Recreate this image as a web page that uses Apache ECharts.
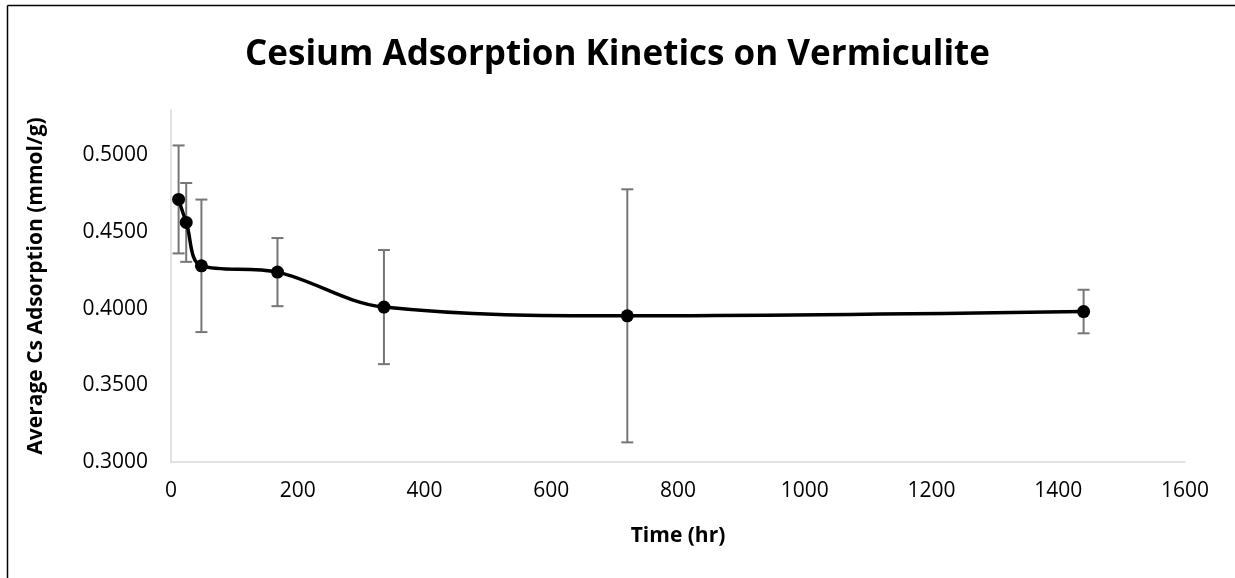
<!DOCTYPE html>
<html>
<head>
<meta charset="utf-8">
<script src="https://cdn.jsdelivr.net/npm/echarts@6/dist/echarts.min.js"></script>
<style>
  html, body { margin: 0; padding: 0; background: #fff; }
  #chart { width: 1235px; height: 578px; }
</style>
</head>
<body>
<div id="chart"></div>
<script>
// 数据 - time in hours, average Cs adsorption and error (±)
var timeHr = [12, 24, 48, 168, 336, 720, 1440];
var avgAdsorption = [0.4712, 0.4562, 0.4279, 0.4238, 0.4010, 0.3953, 0.3981];
var errAdsorption = [0.0352, 0.0257, 0.0432, 0.0222, 0.0372, 0.0825, 0.0142];

var lineData = timeHr.map(function (t, i) { return [t, avgAdsorption[i]]; });
var errData = timeHr.map(function (t, i) {
    return [t, avgAdsorption[i] - errAdsorption[i], avgAdsorption[i] + errAdsorption[i]];
});

var chart = echarts.init(document.getElementById('chart'));
var font = '"Open Sans", sans-serif';

var option = {
    backgroundColor: '#fff',
    animation: false,
    title: {
        text: 'Cesium Adsorption Kinetics on Vermiculite',
        left: 'center',
        top: 33,
        textStyle: { fontFamily: font, fontWeight: 'bold', fontSize: 35, color: '#000' }
    },
    grid: { left: 171, right: 50, top: 110, bottom: 116 },
    xAxis: {
        type: 'value',
        min: 0,
        max: 1600,
        interval: 200,
        name: 'Time (hr)',
        nameLocation: 'middle',
        nameGap: 64,
        nameMoveOverlap: false,
        nameTextStyle: { fontFamily: font, fontWeight: 'bold', fontSize: 21, color: '#000' },
        axisLine: { show: true, lineStyle: { color: '#d9d9d9', width: 1.5 } },
        axisTick: { show: false },
        splitLine: { show: false },
        axisLabel: {
            fontFamily: font, fontSize: 21, color: '#000', margin: 19,
            formatter: function (v) { return String(v); }
        }
    },
    yAxis: {
        type: 'value',
        min: 0.3,
        max: 0.5295,
        interval: 0.05,
        name: 'Average Cs Adsorption (mmol/g)',
        nameLocation: 'middle',
        nameGap: 124,
        nameMoveOverlap: false,
        nameTextStyle: { fontFamily: font, fontWeight: 'bold', fontSize: 21, color: '#000' },
        axisLine: { show: true, lineStyle: { color: '#d9d9d9', width: 1.5 } },
        axisTick: { show: false },
        splitLine: { show: false },
        axisLabel: {
            fontFamily: font, fontSize: 21, color: '#000', margin: 23,
            showMaxLabel: false,
            formatter: function (v) { return v.toFixed(4); }
        }
    },
    series: [
        {
            // 误差线
            type: 'custom',
            data: errData,
            z: 2,
            renderItem: function (params, api) {
                var x = api.value(0);
                var lo = api.coord([x, api.value(1)]);
                var hi = api.coord([x, api.value(2)]);
                var cap = 6;
                var style = { stroke: '#767676', lineWidth: 2 };
                return {
                    type: 'group',
                    children: [
                        { type: 'line', shape: { x1: lo[0], y1: lo[1], x2: hi[0], y2: hi[1] }, style: style },
                        { type: 'line', shape: { x1: hi[0] - cap, y1: hi[1], x2: hi[0] + cap, y2: hi[1] }, style: style },
                        { type: 'line', shape: { x1: lo[0] - cap, y1: lo[1], x2: lo[0] + cap, y2: lo[1] }, style: style }
                    ]
                };
            }
        },
        {
            type: 'line',
            data: lineData,
            z: 3,
            smooth: 0.35,
            symbol: 'circle',
            symbolSize: 13,
            itemStyle: { color: '#000' },
            lineStyle: { color: '#000', width: 3.5 }
        }
    ],
    graphic: [
        { type: 'line', shape: { x1: 7.5, y1: 5.5, x2: 1235, y2: 5.5 }, style: { stroke: '#000', lineWidth: 1.5 } },
        { type: 'line', shape: { x1: 7.5, y1: 5.5, x2: 7.5, y2: 578 }, style: { stroke: '#000', lineWidth: 1.5 } }
    ]
};

chart.setOption(option);
window.addEventListener('resize', chart.resize);
</script>
</body>
</html>
